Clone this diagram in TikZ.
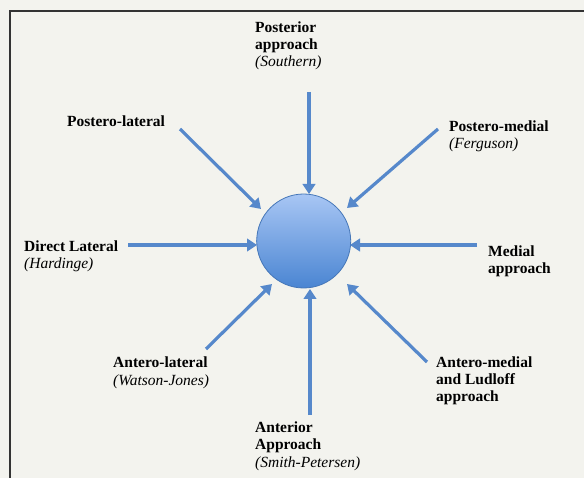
\documentclass[tikz,border=0pt]{standalone}
\usepackage{fontspec}
\setmainfont{Liberation Serif}
\usetikzlibrary{arrows.meta}
\definecolor{bg}{HTML}{F3F3EE}
\definecolor{arr}{HTML}{5688CB}
\definecolor{frame}{HTML}{333333}
\definecolor{ballTop}{HTML}{A8C6F4}
\definecolor{ballBot}{HTML}{4A85D2}
\definecolor{ballEdge}{HTML}{4677B8}
\begin{document}
\begin{tikzpicture}[x=1pt,y=-1pt,
  lbl/.style={anchor=base west, align=left, inner sep=0pt,
    font=\fontsize{15.5}{17.4}\selectfont\bfseries},
  pointer/.style={draw=arr, line width=3.2pt,
    -{Triangle[length=10pt,width=12.5pt]}},
  ball/.style={circle, minimum size=94pt, inner sep=0pt,
    top color=ballTop, bottom color=ballBot, draw=ballEdge, line width=0.8pt}]
\useasboundingbox (0,0) rectangle (584,478);
\fill[bg] (0,0) rectangle (584,478);
\draw[frame, line width=1.3pt] (10,478) -- (10,11) -- (584,11);

\node[ball] (hip) at (303.7,241) {};

% labels (positions = baseline of the last line)
\node[lbl] (post) at (255,67) {Posterior\\approach\\{\mdseries\itshape (Southern)}};
\node[lbl] (postlat) at (67,127) {Postero-lateral};
\node[lbl] (postmed) at (449,149) {Postero-medial\\{\mdseries\itshape (Ferguson)}};
\node[lbl] (lat) at (24,269) {Direct Lateral\\{\mdseries\itshape (Hardinge)}};
\node[lbl] (med) at (488,274) {Medial\\approach};
\node[lbl] (antlat) at (113,385) {Antero-lateral\\{\mdseries\itshape (Watson-Jones)}};
\node[lbl] (antmed) at (436,402) {Antero-medial\\and Ludloff\\approach};
\node[lbl] (ant) at (255,467) {Anterior\\Approach\\{\mdseries\itshape (Smith-Petersen)}};

% arrow ends
\coordinate (tPost) at (309,92);     \coordinate (hPost) at (309,194);
\coordinate (tPL) at (180,129);      \coordinate (hPL) at (261,209);
\coordinate (tPM) at (438,129);      \coordinate (hPM) at (347,208);
\coordinate (tLat) at (128,245);     \coordinate (hLat) at (257,245);
\coordinate (tMed) at (477,245);     \coordinate (hMed) at (350,245);
\coordinate (tAL) at (206,349);      \coordinate (hAL) at (272,284);
\coordinate (tAM) at (427,362);      \coordinate (hAM) at (347,284);
\coordinate (tAnt) at (310,415);     \coordinate (hAnt) at (310,289);

\foreach \a in {Post,PL,PM,Lat,Med,AL,AM,Ant}
  \draw[pointer] (t\a) -- (h\a);
\end{tikzpicture}
\end{document}
